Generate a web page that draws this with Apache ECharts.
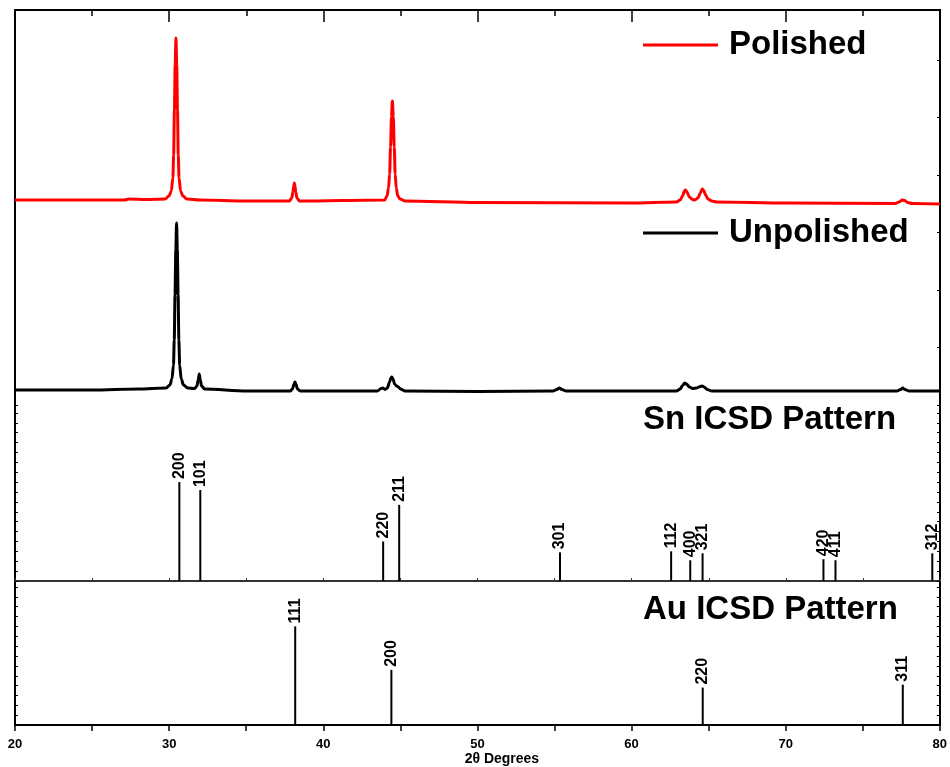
<!DOCTYPE html>
<html>
<head>
<meta charset="utf-8">
<title>XRD</title>
<script src="https://cdn.jsdelivr.net/npm/echarts@6/dist/echarts.min.js"></script>
<style>
  html, body { margin: 0; padding: 0; background: #fff; }
  #main { width: 950px; height: 767px; }
</style>
</head>
<body>
<div id="main"></div>
<script>
// measured patterns, [2theta, intensity a.u.]
var polished = [
    [20,15],[24,15],[27.1,15],[27.4,16],[28.5,15.5],[29.74,16],[29.99,19],[30.14,24],[30.24,37],
    [30.29,60],[30.34,105],[30.39,150],[30.44,177],[30.49,150],[30.54,105],[30.59,60],[30.64,37],
    [30.74,24],[30.89,19],[31.14,16],[32,15],[35,14],
    [37.8,14],[37.95,17],[38.03,23],[38.08,29],[38.12,32],[38.16,29],[38.21,23],[38.29,17],[38.45,14],
    [43.98,15],[44.13,19],[44.23,27],[44.30,41],[44.36,68],[44.42,98],[44.48,114],[44.54,98],[44.60,68],
    [44.66,41],[44.73,27],[44.83,19],[44.98,16],[45.3,14],[50,12.5],[60,12],
    [62.9,13],[63.15,15],[63.3,19],[63.42,24],[63.49,25],[63.58,23],[63.75,18],[63.95,15.5],[64.1,15],
    [64.3,17],[64.45,22],[64.58,26],[64.66,25],[64.8,20],[64.95,16],[65.2,14],[65.5,13],[70,12],
    [77.1,11.5],[77.35,13],[77.55,15],[77.7,14.5],[77.9,12.5],[78.2,11.5],[80,11]
];
var unpolished = [
    [20,15],[25,15],[28,16],[29.8,17],[30.05,20],[30.18,26],[30.28,40],[30.33,65],[30.38,110],
    [30.43,155],[30.48,182],[30.53,155],[30.58,110],[30.63,65],[30.68,40],[30.78,26],[30.93,20],
    [31.2,17],[31.65,16.5],[31.8,19],[31.88,25],[31.95,31],[32.02,25],[32.1,19],[32.3,16],[35,14],
    [37.85,14],[38.0,16],[38.1,21],[38.16,23],[38.22,21],[38.32,16],[38.5,14],
    [43.5,14],[43.75,16.5],[43.85,17],[44.0,15.5],[44.15,17],[44.3,23],[44.38,27],[44.44,28],[44.52,26],
    [44.62,21],[44.75,19],[44.87,18],[45.0,16],[45.3,14],[50,13.5],
    [54.9,14],[55.15,15.5],[55.31,17],[55.47,15.5],[55.75,14],
    [62.9,14],[63.15,16],[63.3,19.5],[63.44,22],[63.55,21],[63.75,18],[63.95,16.5],[64.2,17],[64.45,18.5],
    [64.57,19],[64.7,18],[64.9,15.5],[65.2,14],[70,14],
    [77.2,14],[77.45,15.5],[77.58,17],[77.72,15.5],[78.0,14],[80,14]
];
var polishedOffset = 190;

// reference patterns
var snPos = [30.66, 32.02, 43.88, 44.92, 55.35, 62.56, 63.80, 64.60, 72.44, 73.22, 79.50];
var snInt = [100, 92, 40, 77, 29, 30, 21, 28, 22, 21, 28];
var snHkl = ['200', '101', '220', '211', '301', '112', '400', '321', '420', '411', '312'];

var auPos = [38.18, 44.42, 64.62, 77.60];
var auInt = [100, 56, 38, 41];
var auHkl = ['111', '200', '220', '311'];

var xTicks = [20, 30, 40, 50, 60, 70, 80];

var myChart = echarts.init(document.getElementById('main'));

function frameY(grid, pos, max, interval, ticks){
    return {
        type: 'value', gridIndex: grid, position: pos, min: 0, max: max, interval: interval,
        axisLine: {show: true, onZero: false, lineStyle: {color: '#000', width: 2}},
        axisTick: {show: ticks, inside: true, length: 3, lineStyle: {color: '#000'}},
        axisLabel: {show: false},
        splitLine: {show: false}
    };
}

function stickSeries(name, xi, yi, pos, val, hkl){
    return {
        name: name, type: 'bar', xAxisIndex: xi, yAxisIndex: yi,
        data: pos.map(function(x, i){ return [x, val[i]]; }),
        barWidth: 2,
        itemStyle: {color: '#000'},
        label: {
            show: true, position: 'top', rotate: 90, align: 'left', verticalAlign: 'middle', distance: 3,
            fontSize: 16, fontWeight: 'bold', color: '#000',
            formatter: function(p){ return hkl[p.dataIndex]; }
        },
        silent: true
    };
}

var legendText = {fontSize: 33, fontWeight: 'bold', color: '#000', lineHeight: 36, padding: [0, 0, 0, 6]};

myChart.setOption({
    animation: false,
    textStyle: {fontFamily: 'Liberation Sans, Arial, sans-serif'},
    title: [
        {text: 'Sn ICSD Pattern', left: 643, top: 403, padding: 0,
            textStyle: {fontSize: 33, fontWeight: 'bold', color: '#000'}},
        {text: 'Au ICSD Pattern', left: 643, top: 593, padding: 0,
            textStyle: {fontSize: 33, fontWeight: 'bold', color: '#000'}}
    ],
    legend: [
        {data: ['Polished'], left: 643, top: 27, padding: 0, icon: 'rect', itemWidth: 75, itemHeight: 3,
            selectedMode: false, textStyle: legendText},
        {data: ['Unpolished'], left: 643, top: 215, padding: 0, icon: 'rect', itemWidth: 75, itemHeight: 3,
            selectedMode: false, textStyle: legendText}
    ],
    grid: [
        {left: 15, right: 10, top: 10, height: 395},
        {left: 15, right: 10, top: 405, height: 176},
        {left: 15, right: 10, top: 581, height: 154}
    ],
    xAxis: [{
        type: 'value', gridIndex: 0, position: 'top', min: 20, max: 80, interval: 10,
        axisLine: {onZero: false, lineStyle: {color: '#000', width: 2}},
        axisTick: {inside: true, length: 12, lineStyle: {color: '#000', width: 1.5}},
        minorTick: {show: true, splitNumber: 2, length: 6, lineStyle: {color: '#000', width: 1.5}},
        axisLabel: {show: false},
        splitLine: {show: false}
    }, {
        type: 'value', gridIndex: 1, position: 'bottom', min: 20, max: 80, interval: 5,
        axisLine: {onZero: false, lineStyle: {color: '#333', width: 2}},
        axisTick: {inside: true, length: 3, lineStyle: {color: '#333'}},
        axisLabel: {show: false},
        splitLine: {show: false}
    }, {
        type: 'value', gridIndex: 2, position: 'bottom', min: 20, max: 80, interval: 5,
        axisLine: {onZero: false, lineStyle: {color: '#000', width: 2}},
        axisTick: {length: 6, lineStyle: {color: '#000', width: 1.5}},
        axisLabel: {
            margin: 13, fontSize: 13, fontWeight: 'bold', color: '#000',
            formatter: function(v){ return xTicks.indexOf(v) >= 0 ? String(v) : ''; }
        },
        splitLine: {show: false},
        name: '2θ Degrees', nameLocation: 'middle', nameGap: 17,
        nameTextStyle: {fontSize: 14, fontWeight: 'bold', color: '#000', padding: [0, 0, 0, 49]}
    }],
    yAxis: [
        frameY(0, 'left', 395, 57.5, false),
        frameY(0, 'right', 395, 57.5, true),
        frameY(1, 'left', 178, 10, true),
        frameY(1, 'right', 178, 10, true),
        frameY(2, 'left', 146, 10, true),
        frameY(2, 'right', 146, 10, true)
    ],
    series: [{
        name: 'Polished', type: 'line', xAxisIndex: 0, yAxisIndex: 0,
        data: polished.map(function(p){ return [p[0], p[1] + polishedOffset]; }),
        symbol: 'none', smooth: 0.3, smoothMonotone: 'x',
        color: '#ff0000', lineStyle: {width: 3}, silent: true
    }, {
        name: 'Unpolished', type: 'line', xAxisIndex: 0, yAxisIndex: 0,
        data: unpolished,
        symbol: 'none', smooth: 0.3, smoothMonotone: 'x',
        color: '#000', lineStyle: {width: 3}, silent: true
    },
        stickSeries('Sn ICSD', 1, 2, snPos, snInt, snHkl),
        stickSeries('Au ICSD', 2, 4, auPos, auInt, auHkl)
    ]
});
</script>
</body>
</html>
